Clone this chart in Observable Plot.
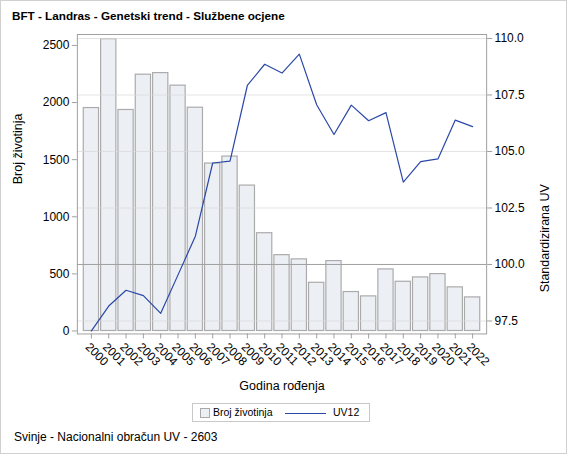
<!DOCTYPE html>
<html>
<head>
<meta charset="utf-8">
<script src="https://cdn.jsdelivr.net/npm/d3@7"></script>
<script src="https://cdn.jsdelivr.net/npm/@observablehq/plot@0.6"></script>
<style>
  html, body { margin: 0; padding: 0; background: #fff; }
  #wrap { position: relative; width: 567px; height: 454px; box-sizing: border-box; border: 1px solid #d0d0d0; font-family: "Liberation Sans", Arial, sans-serif; color: #000; overflow: hidden; }
  #title { position: absolute; left: 11px; top: 8px; font-weight: bold; font-size: 11.7px; line-height: 14px; white-space: nowrap; }
  #chart { position: absolute; left: -1px; top: 25px; }
  #legend { position: absolute; left: 191px; top: 402px; width: 176px; height: 17px; border: 1px solid #c8c8c8; font-size: 10.5px; }
  #legend .sw { position: absolute; left: 7px; top: 4px; width: 8px; height: 8px; background: #eceff4; border: 1px solid #a9a9a9; }
  #legend .t1 { position: absolute; left: 20px; top: 2px; white-space: nowrap; }
  #legend .ln { position: absolute; left: 92px; top: 9px; width: 41px; height: 0; border-top: 1.3px solid #2a48a8; }
  #legend .t2 { position: absolute; left: 140px; top: 2px; white-space: nowrap; }
  #caption { position: absolute; left: 13px; top: 429px; font-size: 12px; line-height: 14px; white-space: nowrap; }
</style>
</head>
<body>
<div id="wrap">
  <div id="title">BFT - Landras - Genetski trend - Službene ocjene</div>
  <div id="chart"></div>
  <div id="legend"><div class="sw"></div><div class="t1">Broj životinja</div><div class="ln"></div><div class="t2">UV12</div></div>
  <div id="caption">Svinje - Nacionalni obračun UV - 2603</div>
</div>
<script>
const years = [2000,2001,2002,2003,2004,2005,2006,2007,2008,2009,2010,2011,2012,2013,2014,2015,2016,2017,2018,2019,2020,2021,2022];
const counts = [1952,2555,1935,2244,2258,2148,1955,1466,1527,1273,856,664,627,422,612,341,303,539,431,469,498,382,294];
const uv12 = [97.06,98.16,98.86,98.62,97.84,99.54,101.25,104.49,104.57,107.92,108.86,108.47,109.31,107.07,105.75,107.05,106.36,106.72,103.64,104.55,104.67,106.39,106.10];
const countTicks = [0,500,1000,1500,2000,2500];
const uvTicks = [97.5,100,102.5,105,107.5,110];
const uvRef = [100];

const cMin = -26, cMax = 2596, uMin = 96.926, uMax = 110.177;
const toC = u => cMin + (u - uMin) / (uMax - uMin) * (cMax - cMin);
const fromC = c => uMin + (c - cMin) / (cMax - cMin) * (uMax - uMin);

const data = years.map((y, i) => ({year: String(y), count: counts[i], uv: uv12[i]}));
const gray = "#a0a0a0";

const chart = Plot.plot({
  width: 567,
  height: 370,
  marginLeft: 77,
  marginRight: 80,
  marginTop: 8,
  marginBottom: 62,
  style: {fontFamily: "'Liberation Sans', Arial, sans-serif", fontSize: "12px", color: "#000", background: "transparent"},
  x: {type: "band", domain: years.map(String), paddingInner: 0.12, paddingOuter: 0.37, round: false, label: null},
  y: {domain: [cMin, cMax], label: null},
  marks: [
    Plot.barY(data, {x: "year", y: "count", fill: "#eceff4", stroke: "#ababab", strokeWidth: 1.2}),
    Plot.ruleY(uvTicks.filter(d => d !== 100), {y: d => toC(d), stroke: "#d8d8d8", strokeWidth: 1, strokeOpacity: 0.7}),
    Plot.ruleY(uvRef, {y: d => toC(d), stroke: gray, strokeWidth: 1}),
    Plot.lineY(data, {x: "year", y: d => toC(d.uv), stroke: "#2a48a8", strokeWidth: 1.2}),
    Plot.frame({stroke: gray}),
    Plot.axisY(countTicks, {anchor: "left", tickSize: 5, tickPadding: 3, stroke: gray, label: null, fill: "#000", tickFormat: d => String(d)}),
    Plot.axisY(uvTicks.map(toC), {anchor: "right", tickSize: 5, tickPadding: 3, stroke: gray, label: null, fill: "#000", tickFormat: c => fromC(c).toFixed(1)}),
    Plot.axisX({anchor: "bottom", tickSize: 5, stroke: gray, label: null, tickFormat: () => ""}),
    Plot.axisX({anchor: "bottom", tickSize: 0, tickPadding: 11, tickRotate: 45, dx: -4, label: null, fill: "#000"}),
    Plot.text(["Broj životinja"], {frameAnchor: "left", dx: -59, rotate: -90, fontSize: 12.5}),
    Plot.text(["Standardizirana UV"], {frameAnchor: "right", dx: 58, rotate: -90, fontSize: 12.5}),
    Plot.text(["Godina rođenja"], {frameAnchor: "bottom", dy: 56, fontSize: 12.5})
  ]
});
document.getElementById("chart").appendChild(chart);
</script>
</body>
</html>
